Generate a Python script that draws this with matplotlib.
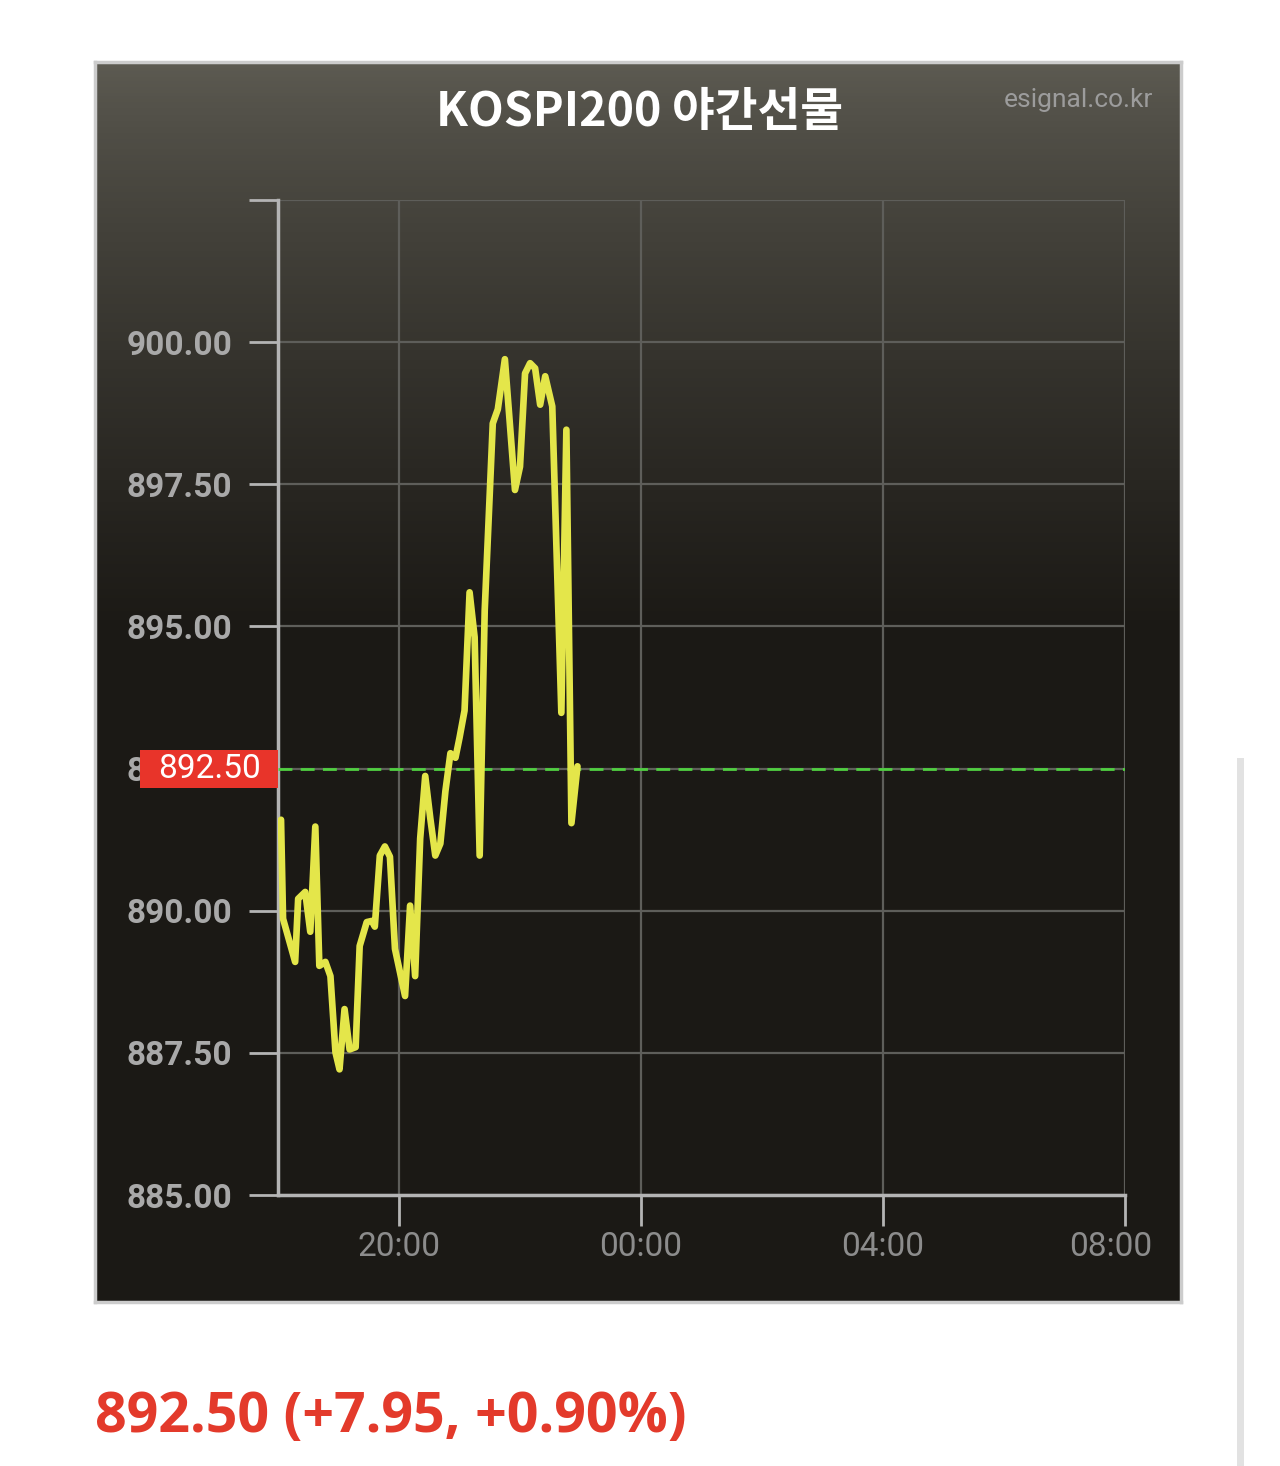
import numpy as np
import pandas as pd
import matplotlib
matplotlib.use('Agg')
import matplotlib.pyplot as plt
import matplotlib.dates as mdates
import matplotlib.transforms as mtransforms
from matplotlib.patches import Rectangle

plt.rcParams['font.family'] = ['Roboto', 'Noto Sans CJK KR', 'DejaVu Sans']

# 야간선물 데이터
times = ['18:03', '18:05', '18:17', '18:20', '18:27', '18:32', '18:37', '18:41',
         '18:47', '18:52', '18:57', '19:01', '19:06', '19:11', '19:17', '19:21',
         '19:28', '19:33', '19:36', '19:41', '19:46', '19:51', '19:56', '20:06',
         '20:11', '20:16', '20:21', '20:26', '20:31', '20:36', '20:41', '20:46',
         '20:51', '20:56', '21:00', '21:05', '21:10', '21:15', '21:20', '21:25',
         '21:33', '21:38', '21:45', '21:55', '22:00', '22:05', '22:10', '22:15',
         '22:20', '22:25', '22:32', '22:41', '22:46', '22:51', '22:57']
prices = [891.60, 889.86, 889.10, 890.21, 890.33, 889.63, 891.48, 889.03,
          889.10, 888.85, 887.51, 887.21, 888.27, 887.56, 887.60, 889.38,
          889.80, 889.82, 889.72, 890.97, 891.13, 890.95, 889.33, 888.50,
          890.09, 888.85, 891.27, 892.37, 891.63, 890.97, 891.18, 892.10,
          892.77, 892.69, 893.04, 893.52, 895.60, 894.81, 890.97, 895.28,
          898.57, 898.82, 899.70, 897.40, 897.81, 899.45, 899.63, 899.54,
          898.90, 899.40, 898.87, 893.48, 898.46, 891.54, 892.54]
y_ticks = [885.0, 887.5, 890.0, 892.5, 895.0, 897.5, 900.0, 902.5]
x_ticks = ['20:00', '00:00', '04:00', '08:00']
last_price = 892.50
change = 7.95
change_pct = 0.90
title = 'KOSPI200 야간선물'


def to_dt(s):
    t = pd.Timestamp('2024-01-01 ' + s)
    if t.hour < 12:
        t += pd.Timedelta(days=1)   # 자정 이후는 다음날
    return t


dates = [to_dt(s) for s in times]
xt = [to_dt(s) for s in x_ticks]

W, H = 1280, 1466
fig = plt.figure(figsize=(W / 100, H / 100), dpi=100)
fig.patch.set_facecolor('white')

# 배경 패널 (위쪽 회색 -> 아래 검정 그라데이션)
px0, px1, py0, py1 = 95, 1181, 62, 1302
bg = fig.add_axes([px0 / W, 1 - py1 / H, (px1 - px0) / W, (py1 - py0) / H])
g = np.linspace(0, 1, 400)[:, None]
top = np.array([94, 92, 83]) / 255
bot = np.array([27, 25, 21]) / 255
k = np.clip(g / 0.46, 0, 1) ** 0.75
grad = top * (1 - k[..., None]) + bot * k[..., None]
grad = np.repeat(grad, 2, axis=1)
bg.imshow(grad, aspect='auto', extent=[0, 1, 0, 1], origin='upper')
bg.set_xticks([])
bg.set_yticks([])
for s in bg.spines.values():
    s.set_color('#cccccc')
    s.set_linewidth(2.5)

# 차트
ax = fig.add_axes([278 / W, 1 - 1195 / H, (1125 - 278) / W, (1195 - 200) / H])
ax.patch.set_alpha(0)
ax.set_xlim(to_dt('18:00'), to_dt('08:00'))
ax.set_ylim(y_ticks[0], y_ticks[-1])

ax.set_yticks(y_ticks)
ax.set_yticklabels(['%.2f' % v for v in y_ticks[:-1]] + [''])
ax.set_xticks(xt)
ax.xaxis.set_major_formatter(mdates.DateFormatter('%H:%M'))

ax.grid(True, color='#5e5e5a', linewidth=1.6)
ax.set_axisbelow(True)
for side in ['top', 'right']:
    ax.spines[side].set_visible(False)
for side in ['left', 'bottom']:
    ax.spines[side].set_color('#b4b4b4')
    ax.spines[side].set_linewidth(2.5)

ax.tick_params(axis='y', length=21, width=2, color='#b4b4b4', pad=12,
               labelsize=24, labelcolor='#a9a9a9')
ax.tick_params(axis='x', length=22, width=2, color='#b4b4b4', pad=4,
               labelsize=24, labelcolor='#8c8c8c')
for lb in ax.get_yticklabels():
    lb.set_fontweight('bold')
# 마지막 08:00 라벨은 패널 안쪽으로
fig.canvas.draw()
last = ax.get_xticklabels()[-1]
last.set_transform(last.get_transform() + mtransforms.ScaledTranslation(-14 / 100, 0, fig.dpi_scale_trans))

ax.axhline(last_price, color='#4fd040', linewidth=2, linestyle=(0, (5, 3)), zorder=3)
ax.plot(dates, prices, color='#e4e64a', linewidth=4.8, solid_joinstyle='round',
        solid_capstyle='round', zorder=4)

# 현재가 표시
tr = mtransforms.blended_transform_factory(ax.transAxes, ax.transData)
bw = (278 - 140) / (1125 - 278)
bh = 38 / (1195 - 200) * (y_ticks[-1] - y_ticks[0])
ax.add_patch(Rectangle((-bw, last_price - bh / 2), bw, bh, transform=tr,
                       facecolor='#e8342a', edgecolor='none', clip_on=False, zorder=6))
ax.text(-bw / 2, last_price, '%.2f' % last_price, transform=tr, ha='center',
        va='center', fontsize=24, color='white', zorder=7, clip_on=False)

fig.text(640 / W, 1 - 112 / H, title, ha='center', va='center', fontsize=33.5,
         fontweight='bold', color='white', family=['Noto Sans CJK KR', 'DejaVu Sans'])
fig.text(1153 / W, 1 - 100 / H, 'esignal.co.kr', ha='right', va='center',
         fontsize=19, color='#9c9c9c')

fig.text(95 / W, 1 - 1432 / H, '%.2f (+%.2f, +%.2f%%)' % (last_price, change, change_pct),
         ha='left', va='baseline', fontsize=40, fontweight='bold', color='#e33a2b',
         family=['Open Sans', 'DejaVu Sans'])

# 오른쪽 스크롤바
fig.patches.append(Rectangle((1237 / W, 0), 7 / W, 1 - 758 / H, transform=fig.transFigure,
                             facecolor='#e2e2e2', edgecolor='none'))

fig.savefig('out.png', dpi=100)
